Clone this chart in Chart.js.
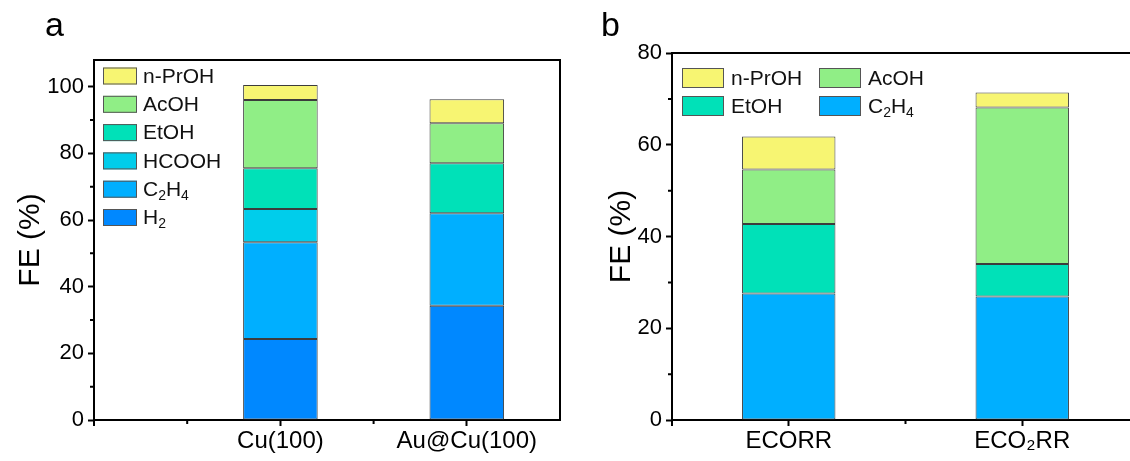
<!DOCTYPE html>
<html lang="en">
<head>
<meta charset="UTF-8">
<title>FE (%) stacked bars</title>
<script src="https://cdn.jsdelivr.net/npm/chart.js"></script>
<style>
  html, body { margin: 0; padding: 0; background: #fff; width: 1130px; height: 461px; overflow: hidden; }
  #wrapA { position: absolute; left: 0; top: 0; }
  #wrapB { position: absolute; left: 565px; top: 0; }
</style>
</head>
<body>
<div id="wrapA"><canvas id="chartA" width="565" height="461"></canvas></div>
<div id="wrapB"><canvas id="chartB" width="580" height="461"></canvas></div>
<script>
// ---- panel a data ----
const catA = ['Cu(100)', 'Au@Cu(100)'];
const h2A = [24.3, 34.3];
const c2h4A = [29.0, 27.7];
const hcoohA = [10.0, 0];
const etohA = [12.2, 15.0];
const acohA = [20.5, 12.0];
const nprohA = [4.5, 7.2];
const yTicksA = [0, 20, 40, 60, 80, 100];

// ---- panel b data ----
const catB = ['ECORR', 'ECO₂RR'];
const c2h4B = [27.6, 26.9];
const etohB = [15.1, 7.1];
const acohB = [11.9, 34.1];
const nprohB = [7.2, 3.3];
const yTicksB = [0, 20, 40, 60, 80];

const colors = {
  nproh: '#F7F572',
  acoh: '#90EE86',
  etoh: '#00E1B8',
  hcooh: '#00CDEB',
  c2h4: '#00AFFF',
  h2: '#0088FF'
};

const FONT = '"Liberation Sans", Arial, sans-serif';
Chart.defaults.font.family = FONT;
Chart.defaults.color = '#000';

const SUB = '₀₁₂₃₄₅₆₇₈₉';

// draws text with real subscript digits (smaller, lowered)
function drawRich(ctx, text, x, y, size) {
  let cx = x;
  for (const ch of text) {
    const k = SUB.indexOf(ch);
    if (k >= 0) {
      ctx.font = Math.round(size * 0.68) + 'px ' + FONT;
      ctx.fillText(String(k), cx, y + size * 0.28);
      cx += ctx.measureText(String(k)).width;
    } else {
      ctx.font = size + 'px ' + FONT;
      ctx.fillText(ch, cx, y);
      cx += ctx.measureText(ch).width;
    }
  }
}

function toXY(vals) {
  return vals.map((v, i) => ({ x: i + 1, y: v }));
}

function ds(label, vals, color) {
  return {
    label: label,
    data: toXY(vals),
    backgroundColor: color,
    borderColor: '#3c3c3c',
    borderWidth: 1,
    borderSkipped: false,
    categoryPercentage: 0.4,
    barPercentage: 1
  };
}

// frame, minor ticks, panel letter and legend
const panelPlugin = {
  id: 'panel',
  afterDraw(chart, args, o) {
    const ctx = chart.ctx, a = chart.chartArea;
    const xs = chart.scales.x, ys = chart.scales.y;
    ctx.save();
    ctx.strokeStyle = '#000';
    ctx.lineWidth = 2;
    ctx.beginPath();
    ctx.moveTo(a.left, a.top);
    ctx.lineTo(a.right, a.top);
    if (o.right) {
      ctx.lineTo(a.right, a.bottom);
    }
    ctx.stroke();

    ctx.beginPath();
    o.yMinor.forEach(v => {
      const p = ys.getPixelForValue(v);
      ctx.moveTo(a.left, p);
      ctx.lineTo(a.left - 4, p);
    });
    o.xMinor.forEach(v => {
      const p = xs.getPixelForValue(v);
      ctx.moveTo(p, a.bottom);
      ctx.lineTo(p, a.bottom + 4);
    });
    // small corner tick below the y axis
    ctx.moveTo(a.left, a.bottom);
    ctx.lineTo(a.left, a.bottom + 6);
    ctx.stroke();

    ctx.fillStyle = '#000';
    ctx.textBaseline = 'alphabetic';
    ctx.textAlign = 'left';
    ctx.font = '34px ' + FONT;
    ctx.fillText(o.letter, o.letterX, o.letterY);

    const lg = o.legend;
    const items = chart.data.datasets.slice().reverse();
    ctx.textBaseline = 'middle';
    items.forEach((d, i) => {
      const col = i % lg.cols, row = Math.floor(i / lg.cols);
      const bx = lg.x + col * lg.colStep;
      const cy = lg.y + row * lg.rowStep;
      ctx.fillStyle = d.backgroundColor;
      ctx.fillRect(bx, cy - lg.boxH / 2, lg.boxW, lg.boxH);
      ctx.strokeStyle = '#555';
      ctx.lineWidth = 1;
      ctx.strokeRect(bx + 0.5, cy - lg.boxH / 2 + 0.5, lg.boxW - 1, lg.boxH - 1);
      ctx.fillStyle = '#111';
      drawRich(ctx, d.label, bx + lg.boxW + lg.gap, cy + 1, lg.size);
    });
    ctx.restore();
  }
};

function makeOptions(cfg) {
  return {
    responsive: false,
    animation: false,
    layout: { padding: { left: 0, right: cfg.padRight, top: cfg.top, bottom: 0 } },
    plugins: {
      legend: { display: false },
      tooltip: { enabled: false },
      panel: cfg.panel
    },
    scales: {
      x: {
        type: 'linear',
        stacked: true,
        offset: false,
        min: cfg.xMin,
        max: cfg.xMax,
        afterBuildTicks: s => { s.ticks = [1, 2].map(v => ({ value: v })); },
        afterFit: s => { s.height = 41; },
        ticks: {
          font: { size: 24 },
          color: '#000',
          padding: 1,
          maxRotation: 0,
          autoSkip: false,
          callback: v => cfg.cats[v - 1] || ''
        },
        grid: { offset: false, drawOnChartArea: false, drawTicks: true, tickLength: 6, tickWidth: 2, tickColor: '#000' },
        border: { display: true, color: '#000', width: 2 }
      },
      y: {
        stacked: true,
        min: 0,
        max: cfg.yMax,
        afterBuildTicks: s => { s.ticks = cfg.yTicks.map(v => ({ value: v })); },
        afterFit: s => { s.width = cfg.yWidth; },
        ticks: { font: { size: 22 }, color: '#000', padding: 4 },
        grid: { drawOnChartArea: false, drawTicks: true, tickLength: 6, tickWidth: 2, tickColor: '#000' },
        border: { display: true, color: '#000', width: 2 },
        title: {
          display: true,
          text: 'FE (%)',
          font: { size: 30 },
          color: '#000',
          padding: { top: cfg.titlePad, bottom: 0 }
        }
      }
    }
  };
}

new Chart(document.getElementById('chartA'), {
  type: 'bar',
  data: {
    datasets: [
      ds('H₂', h2A, colors.h2),
      ds('C₂H₄', c2h4A, colors.c2h4),
      ds('HCOOH', hcoohA, colors.hcooh),
      ds('EtOH', etohA, colors.etoh),
      ds('AcOH', acohA, colors.acoh),
      ds('n-PrOH', nprohA, colors.nproh)
    ]
  },
  options: makeOptions({
    cats: catA, xMin: 0, xMax: 2.5, yMax: 108, yTicks: yTicksA,
    top: 60, padRight: 5, yWidth: 94, titlePad: 13,
    panel: {
      right: true, yMinor: [10, 30, 50, 70, 90], xMinor: [0.5, 1.5],
      letter: 'a', letterX: 45, letterY: 36,
      legend: { x: 103, y: 76, boxW: 34, boxH: 17, gap: 6, rowStep: 28.3, cols: 1, colStep: 0, size: 21 }
    }
  }),
  plugins: [panelPlugin]
});

new Chart(document.getElementById('chartB'), {
  type: 'bar',
  data: {
    datasets: [
      ds('C₂H₄', c2h4B, colors.c2h4),
      ds('EtOH', etohB, colors.etoh),
      ds('AcOH', acohB, colors.acoh),
      ds('n-PrOH', nprohB, colors.nproh)
    ]
  },
  options: makeOptions({
    cats: catB, xMin: 0.5, xMax: 2.5, yMax: 80, yTicks: yTicksB,
    top: 53, padRight: 6, yWidth: 107, titlePad: 39,
    panel: {
      right: false, yMinor: [10, 30, 50, 70], xMinor: [1.5],
      letter: 'b', letterX: 36, letterY: 36,
      legend: { x: 117, y: 78, boxW: 42, boxH: 20, gap: 7, rowStep: 28, cols: 2, colStep: 137, size: 21 }
    }
  }),
  plugins: [panelPlugin]
});
</script>
</body>
</html>
